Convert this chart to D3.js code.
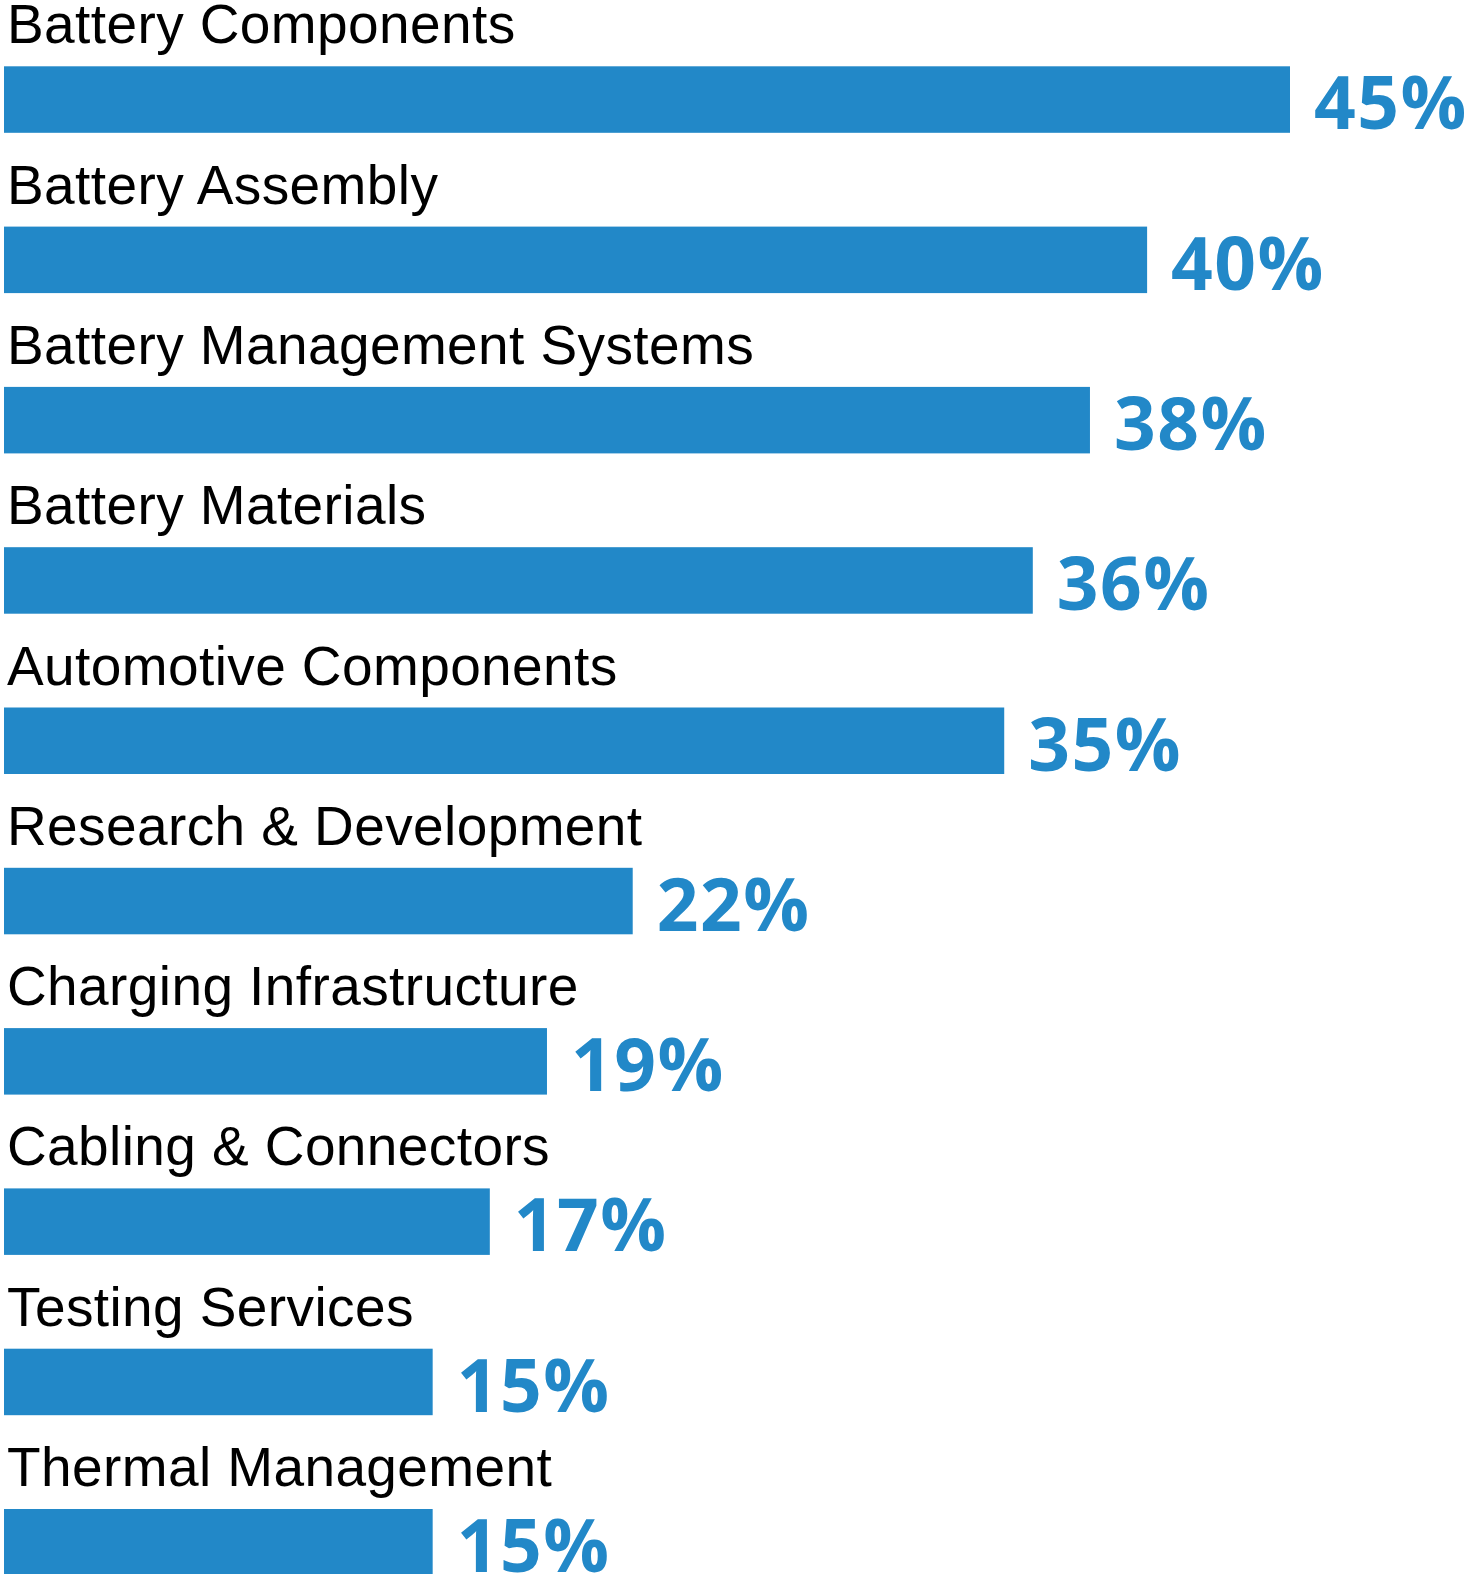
<!DOCTYPE html>
<html>
<head>
<meta charset="utf-8">
<script src="https://cdn.jsdelivr.net/npm/d3@7"></script>
<style>
  html, body { margin: 0; padding: 0; background: #fff; overflow: hidden; }
</style>
</head>
<body>
<div id="chart"></div>
<script>
// data
const categories = [
    "Battery Components",
    "Battery Assembly",
    "Battery Management Systems",
    "Battery Materials",
    "Automotive Components",
    "Research & Development",
    "Charging Infrastructure",
    "Cabling & Connectors",
    "Testing Services",
    "Thermal Management"
];
const shares = [45, 40, 38, 36, 35, 22, 19, 17, 15, 15];

const W = 1470, H = 1574;
const BAR_COLOR = "#2288c8";

const svg = d3.select("#chart").append("svg")
    .attr("width", W)
    .attr("height", H);

// x: percent -> pixels, 45% reaches ~1290
const x = d3.scaleLinear().domain([0, 45]).range([4, 1290]);

// each row is a band; bar sits in the lower part of the band
const y = d3.scaleBand()
    .domain(categories)
    .range([-27.7, 10 * 160.3 - 27.7])
    .paddingInner(0)
    .paddingOuter(0);

const BAR_OFF = 94, BAR_H = 66.5;

const rows = svg.selectAll("g.row")
    .data(categories)
    .enter()
    .append("g")
    .attr("class", "row")
    .attr("transform", d => `translate(0,${y(d)})`);

rows.append("rect")
    .attr("x", x(0))
    .attr("y", BAR_OFF)
    .attr("width", (d, i) => x(shares[i]) - x(0))
    .attr("height", BAR_H)
    .attr("fill", BAR_COLOR);

rows.append("text")
    .attr("x", 7)
    .attr("y", BAR_OFF - 23)
    .attr("font-family", "'Liberation Sans', Arial, Helvetica, sans-serif")
    .attr("font-size", 55)
    .attr("letter-spacing", 0.4)
    .attr("fill", "#000")
    .text(d => d);

rows.append("text")
    .attr("x", (d, i) => x(shares[i]) + 24)
    .attr("y", BAR_OFF + 63)
    .attr("font-family", "'Open Sans', sans-serif")
    .attr("font-weight", 700)
    .attr("font-size", 73)
    .attr("letter-spacing", 1.5)
    .attr("fill", BAR_COLOR)
    .text((d, i) => shares[i] + "%");
</script>
</body>
</html>
